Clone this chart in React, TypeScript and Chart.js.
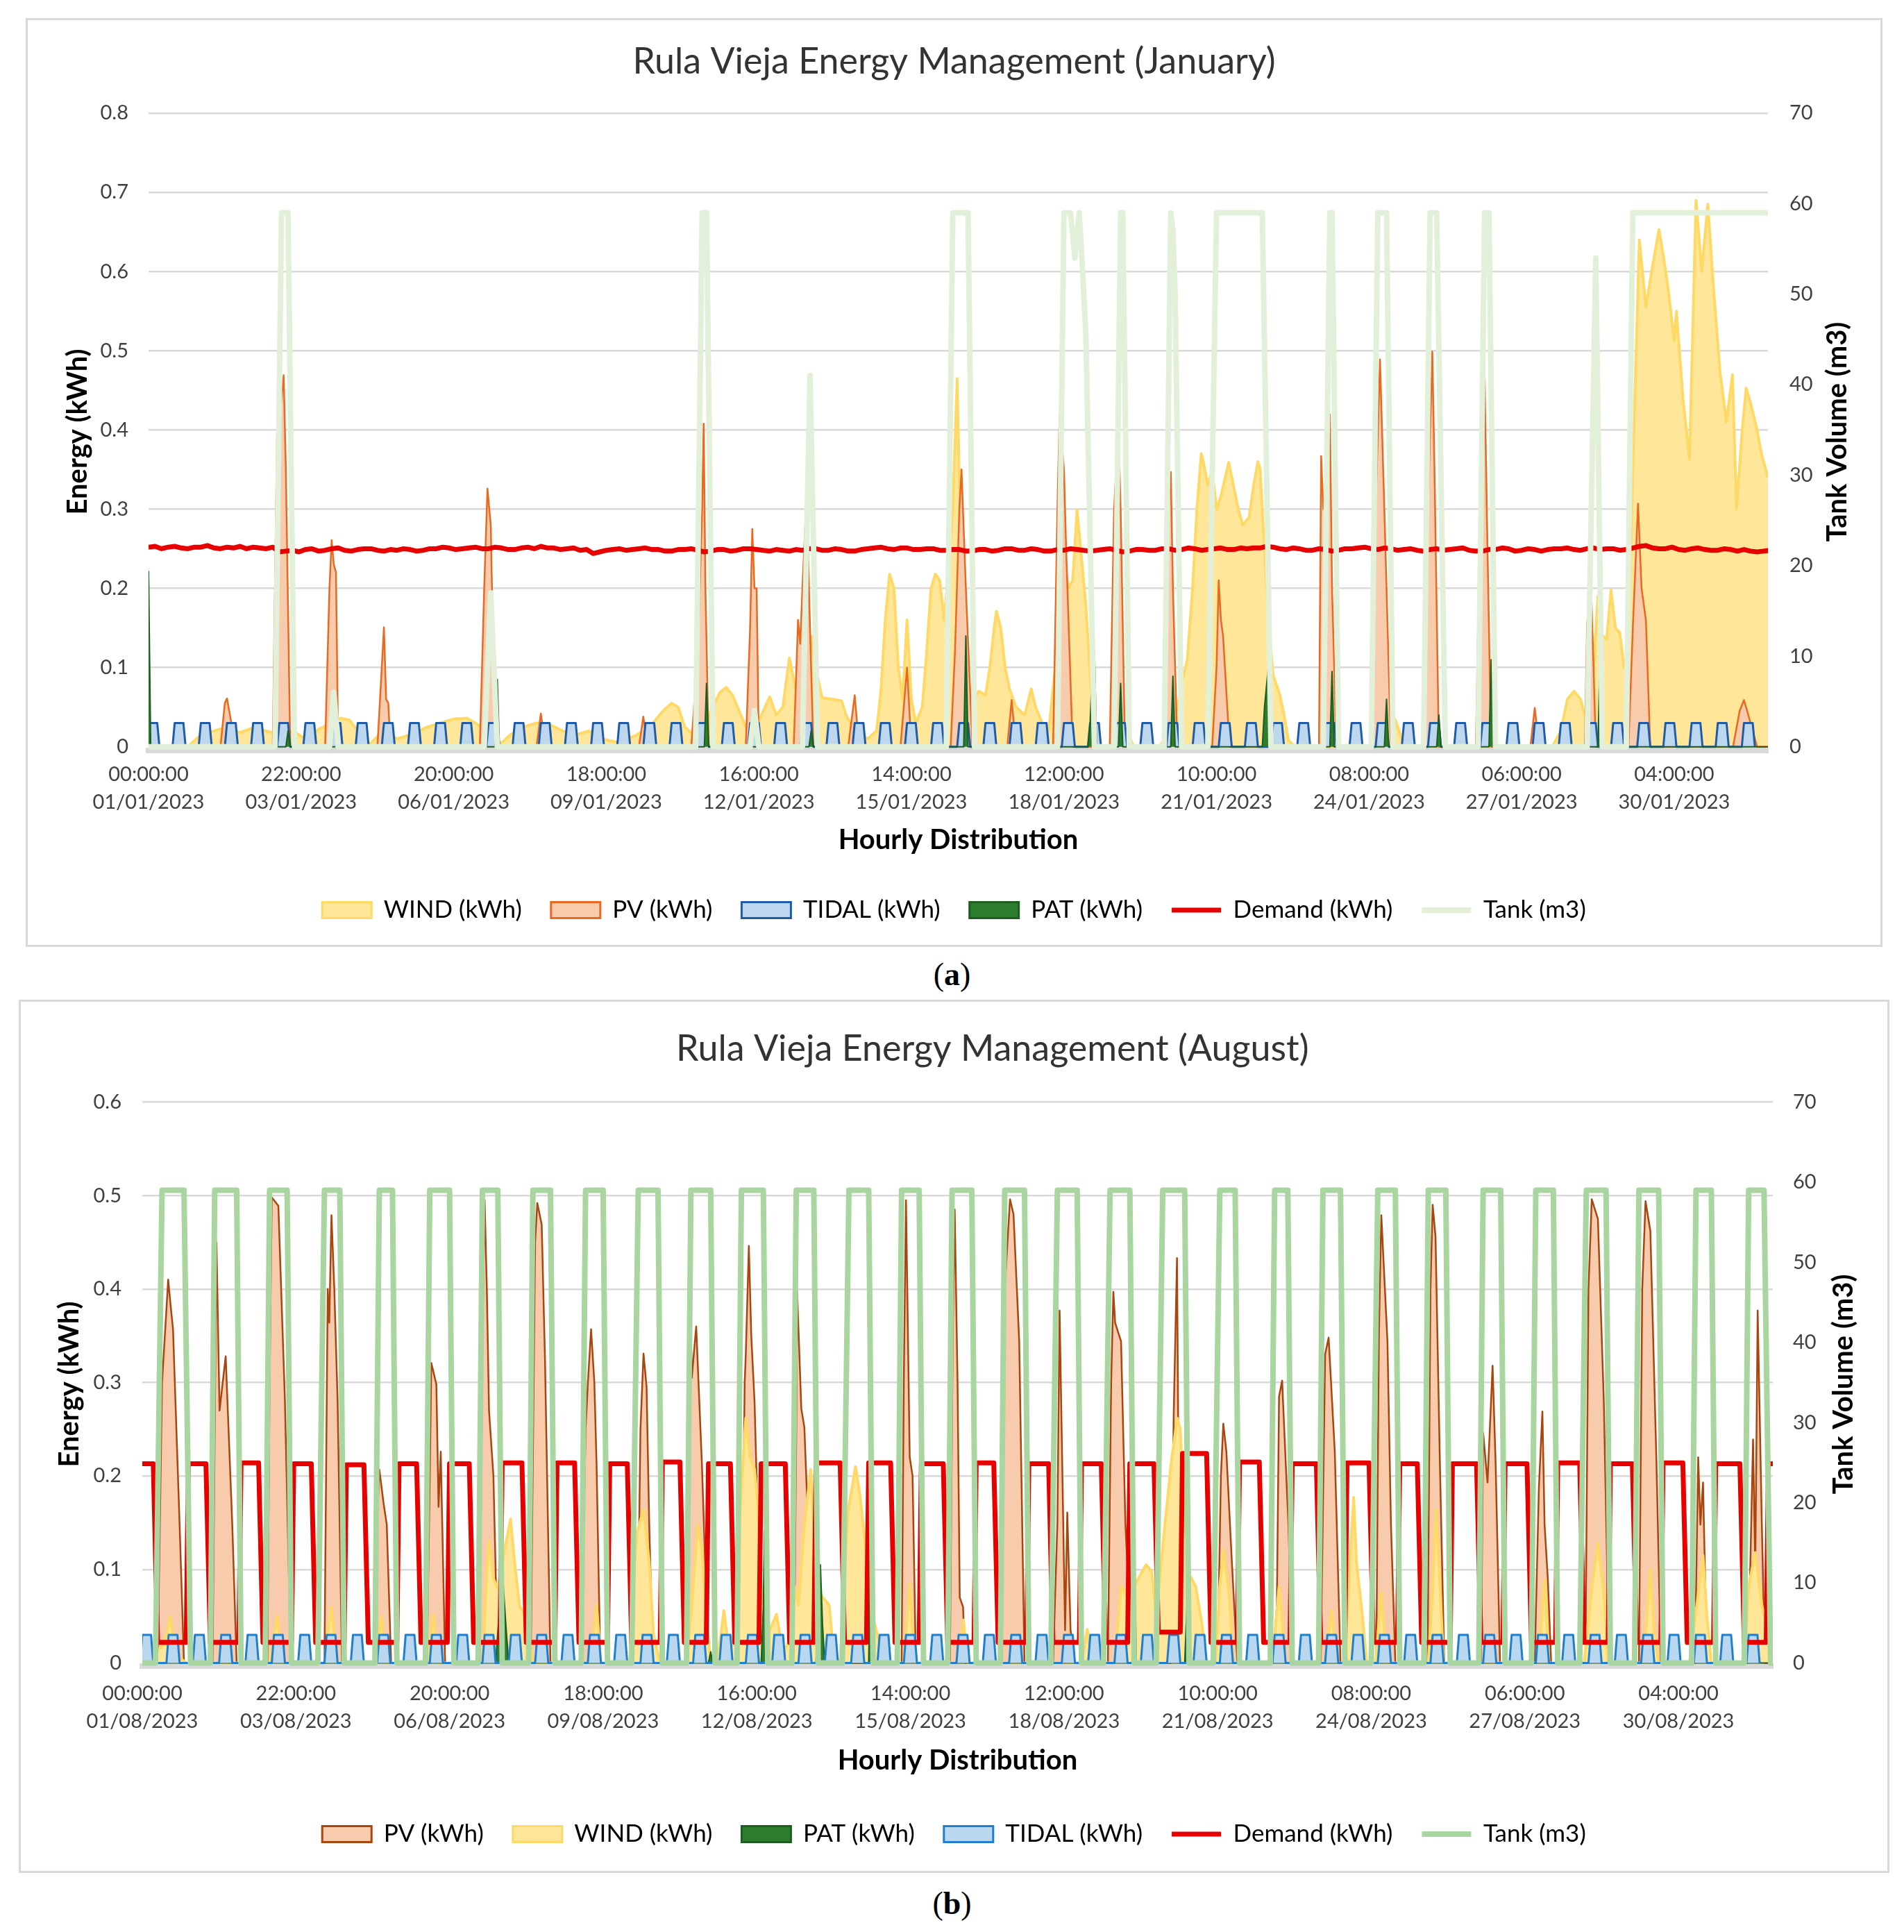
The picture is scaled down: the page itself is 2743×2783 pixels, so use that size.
import { useEffect, useRef } from "react"
import { Chart, registerables } from "chart.js"

Chart.register(...registerables)

const FONT = "Lato, 'Noto Sans', sans-serif"

// x axis: a label every 70 hours of the month
const tickHours = [0, 70, 140, 210, 280, 350, 420, 490, 560, 630, 700]
const tickTimes = ["00:00:00", "22:00:00", "20:00:00", "18:00:00", "16:00:00", "14:00:00", "12:00:00", "10:00:00", "08:00:00", "06:00:00", "04:00:00"]
const janDates = ["01/01/2023", "03/01/2023", "06/01/2023", "09/01/2023", "12/01/2023", "15/01/2023", "18/01/2023", "21/01/2023", "24/01/2023", "27/01/2023", "30/01/2023"]
const augDates = ["01/08/2023", "03/08/2023", "06/08/2023", "09/08/2023", "12/08/2023", "15/08/2023", "18/08/2023", "21/08/2023", "24/08/2023", "27/08/2023", "30/08/2023"]
const janEnergyTicks = [0, 0.1, 0.2, 0.3, 0.4, 0.5, 0.6, 0.7, 0.8]
const augEnergyTicks = [0, 0.1, 0.2, 0.3, 0.4, 0.5, 0.6]
const tankTicks = [0, 10, 20, 30, 40, 50, 60, 70]

type Pair = [number, number]

// ---------- January: [hour of month, value] ----------
const janWind: Pair[] = [
  [0, 0], [18, 0], [24, 0.015], [30, 0.02], [36, 0.025], [42, 0.018], [48, 0.024], [54, 0.02], [60, 0.015], [66, 0.02], [72, 0.01], [78, 0.022], [84, 0.03], [88, 0.036], [92, 0.034], [96, 0.02], [100, 0],
  [108, 0.02], [114, 0.01], [120, 0.015], [128, 0.025], [134, 0.03], [140, 0.035], [146, 0.036], [150, 0.03], [155, 0.02], [160, 0], [166, 0.015], [172, 0.025], [178, 0.03], [184, 0.028], [190, 0.02],
  [196, 0.015], [202, 0.02], [208, 0.01], [216, 0.005], [224, 0.015], [230, 0.025], [236, 0.045], [240, 0.055], [243, 0.05], [246, 0.025], [250, 0.015], [254, 0.02], [258, 0.045], [262, 0.068],
  [265, 0.075], [268, 0.065], [271, 0.045], [274, 0.025], [278, 0.02], [282, 0.045], [285, 0.063], [288, 0.04], [291, 0.05], [294, 0.112], [296, 0.085], [298, 0.06], [301, 0.08], [304, 0.14],
  [306, 0.1], [309, 0.062], [314, 0.06], [318, 0.058], [320, 0.04], [324, 0.02], [330, 0.01], [334, 0.02], [336, 0.07], [338, 0.16], [340, 0.218], [342, 0.2], [344, 0.1], [346, 0.06], [348, 0.16],
  [350, 0.06], [352, 0.03], [355, 0.05], [357, 0.12], [359, 0.2], [361, 0.218], [363, 0.21], [365, 0.16], [367, 0.22], [369, 0.3], [371, 0.465], [373, 0.2], [375, 0.1], [378, 0.06], [381, 0.07],
  [384, 0.065], [386, 0.1], [388, 0.15], [389, 0.171], [391, 0.15], [393, 0.1], [395, 0.073], [398, 0.05], [402, 0.04], [405, 0.073], [407, 0.05], [410, 0.03], [413, 0.02], [416, 0.1], [418, 0.2],
  [420, 0.24], [422, 0.2], [424, 0.21], [426, 0.299], [428, 0.24], [430, 0.18], [433, 0.05], [436, 0], [442, 0], [445, 0.02], [449, 0.02], [452, 0], [464, 0], [468, 0.02], [472, 0.05], [474, 0.08],
  [476.6, 0.11], [479, 0.2], [481, 0.3], [483, 0.37], [484, 0.359], [486, 0.33], [488, 0.35], [490, 0.3], [492, 0.316], [494, 0.34], [495.6, 0.359], [497, 0.34], [498.8, 0.316], [500, 0.3],
  [502, 0.28], [505, 0.29], [507, 0.33], [509, 0.36], [510, 0.35], [511.6, 0.27], [513.8, 0.155], [516, 0.09], [519, 0.066], [521, 0.04], [523, 0.008], [526, 0], [566, 0], [569, 0.015], [572, 0.034],
  [575, 0.01], [578, 0], [644, 0], [648, 0.02], [651, 0.06], [654, 0.07], [657, 0.06], [660, 0.03], [663, 0.1], [665, 0.19], [667, 0.14], [669, 0.136], [671, 0.198], [673, 0.15], [675, 0.144],
  [677, 0.1], [679, 0.12], [681, 0.35], [684, 0.64], [687, 0.555], [690, 0.606], [693, 0.653], [695, 0.62], [697, 0.583], [700, 0.512], [701, 0.55], [704, 0.44], [707, 0.363], [710, 0.69],
  [712.6, 0.6], [715.4, 0.685], [718, 0.58], [721, 0.473], [724, 0.41], [726.7, 0.47], [728.6, 0.3], [731, 0.394], [733, 0.453], [735, 0.434], [738, 0.4], [740, 0.37], [743, 0.34],
]

const janPv: Pair[] = [
  [0, 0], [33, 0], [35, 0.055], [36, 0.061], [38, 0.03], [40, 0], [57, 0], [59, 0.4], [61, 0.44], [62, 0.469], [63, 0.35], [65, 0], [81, 0], [83, 0.2], [84, 0.261], [85, 0.23], [86, 0.22], [87, 0],
  [105, 0], [107, 0.1], [108, 0.151], [109, 0.06], [110, 0.055], [111, 0], [152, 0], [154, 0.2], [155.5, 0.326], [157, 0.28], [159, 0], [178, 0], [180, 0.042], [182, 0], [225, 0], [227, 0.038],
  [229, 0], [249, 0], [252, 0.12], [254, 0.3], [254.7, 0.408], [255.5, 0.2], [257, 0], [274, 0], [276, 0.15], [277, 0.275], [278, 0.2], [279, 0.2], [280, 0], [296, 0], [298, 0.16], [299, 0.13],
  [300, 0.2], [302, 0.32], [303, 0.2], [305, 0], [321, 0], [324, 0.065], [326, 0], [345, 0], [348, 0.1], [350, 0], [368, 0], [370, 0.12], [372, 0.3], [373, 0.35], [375, 0.2], [378, 0], [394, 0],
  [396, 0.059], [398, 0], [415, 0], [417, 0.3], [418, 0.418], [420, 0.35], [421, 0.25], [424, 0], [441, 0], [443, 0.3], [445, 0.4], [446, 0.3], [448, 0], [466, 0], [468, 0.3], [469, 0.347],
  [470, 0.2], [472, 0], [488, 0], [490, 0.1], [491, 0.21], [492, 0.16], [493, 0.14], [496, 0], [537, 0], [538, 0.367], [539, 0.3], [541, 0.35], [542, 0.42], [543, 0.2], [545, 0], [561, 0],
  [563, 0.3], [565, 0.489], [567, 0.3], [570, 0], [585, 0], [587, 0.3], [589, 0.499], [590, 0.35], [592, 0], [609, 0], [611, 0.3], [613, 0.467], [614, 0.3], [616, 0], [634, 0], [636, 0.049],
  [638, 0], [659, 0], [660, 0.15], [661.6, 0.222], [663, 0.1], [664, 0], [679, 0], [681, 0.15], [683.4, 0.307], [685, 0.2], [687, 0.16], [689, 0], [727, 0], [730, 0.045], [732, 0.059],
  [734, 0.04], [738, 0], [743, 0],
]

const janPat: Pair[] = [
  [0, 0.222], [1, 0], [63, 0], [64, 0.02], [65, 0], [159, 0], [160, 0.085], [161, 0], [255, 0], [256, 0.08], [257, 0], [303, 0], [304, 0.02], [305, 0], [374, 0], [375, 0.14], [376, 0],
  [431, 0], [432, 0.03], [433, 0.1], [434, 0.12], [435, 0], [445, 0], [446, 0.08], [447, 0], [469, 0], [470, 0.089], [471, 0], [511, 0], [512, 0.05], [514, 0.108], [515, 0], [542, 0],
  [543, 0.095], [544, 0], [567, 0], [568, 0.06], [569, 0], [591, 0], [592, 0.04], [593, 0], [615, 0], [616, 0.11], [617, 0], [665, 0], [666, 0.124], [667, 0], [743, 0],
]

// demand sampled every 3 hours (one row = 72 h)
const janDemandStep = 3
const janDemand = [
  0.252, 0.253, 0.250, 0.252, 0.253, 0.251, 0.250, 0.252, 0.252, 0.254, 0.251, 0.250, 0.252, 0.251, 0.253, 0.250, 0.252, 0.251, 0.250, 0.252, 0.246, 0.247, 0.248, 0.246,
  0.249, 0.250, 0.247, 0.248, 0.250, 0.251, 0.248, 0.247, 0.249, 0.250, 0.250, 0.248, 0.247, 0.249, 0.248, 0.250, 0.249, 0.247, 0.248, 0.250, 0.250, 0.252, 0.251, 0.249,
  0.250, 0.251, 0.252, 0.250, 0.250, 0.252, 0.251, 0.249, 0.249, 0.251, 0.252, 0.250, 0.253, 0.251, 0.251, 0.249, 0.250, 0.251, 0.248, 0.249, 0.244, 0.246, 0.248, 0.249,
  0.250, 0.248, 0.249, 0.250, 0.251, 0.249, 0.249, 0.247, 0.247, 0.249, 0.249, 0.250, 0.248, 0.246, 0.247, 0.249, 0.249, 0.247, 0.248, 0.250, 0.250, 0.249, 0.248, 0.247,
  0.249, 0.248, 0.247, 0.249, 0.248, 0.250, 0.250, 0.248, 0.248, 0.250, 0.249, 0.247, 0.247, 0.249, 0.250, 0.251, 0.252, 0.250, 0.249, 0.251, 0.251, 0.249, 0.249, 0.250,
  0.250, 0.248, 0.248, 0.249, 0.249, 0.247, 0.247, 0.249, 0.249, 0.247, 0.248, 0.250, 0.250, 0.248, 0.248, 0.250, 0.249, 0.247, 0.247, 0.249, 0.248, 0.250, 0.249, 0.248,
  0.247, 0.248, 0.249, 0.250, 0.248, 0.246, 0.247, 0.249, 0.249, 0.248, 0.248, 0.250, 0.250, 0.248, 0.249, 0.251, 0.250, 0.248, 0.249, 0.250, 0.251, 0.249, 0.249, 0.251,
  0.250, 0.251, 0.251, 0.253, 0.252, 0.250, 0.249, 0.251, 0.250, 0.248, 0.248, 0.250, 0.249, 0.247, 0.248, 0.250, 0.250, 0.251, 0.252, 0.250, 0.249, 0.251, 0.250, 0.248,
  0.249, 0.250, 0.248, 0.247, 0.249, 0.250, 0.248, 0.249, 0.250, 0.251, 0.248, 0.247, 0.247, 0.249, 0.249, 0.251, 0.250, 0.247, 0.248, 0.250, 0.249, 0.247, 0.249, 0.250,
  0.250, 0.251, 0.249, 0.248, 0.250, 0.251, 0.249, 0.250, 0.250, 0.248, 0.249, 0.251, 0.253, 0.254, 0.251, 0.250, 0.250, 0.252, 0.249, 0.248, 0.250, 0.251, 0.249, 0.248,
  0.248, 0.250, 0.249, 0.247, 0.249, 0.247, 0.246, 0.247, 0.248,
]

const janTank: Pair[] = [
  [0, 0], [58, 0], [61, 59], [64, 59], [67, 0], [83, 0], [85, 6], [87, 0], [154, 0], [157, 17], [160, 0], [251, 0], [254, 59], [256, 59], [259, 0], [276, 0], [278, 4], [280, 0],
  [300, 0], [303.5, 41], [307, 0], [366, 0], [369, 59], [376, 59], [379, 0], [417, 0], [420, 59], [423, 59], [425, 54], [427, 59], [428, 55], [430, 46], [434, 0], [443, 0], [446, 59],
  [447, 59], [450, 0], [466, 0], [469, 59], [470, 57], [471, 50], [474, 0], [486, 0], [490, 59], [511, 59], [515, 0], [539, 0], [542, 59], [543, 59], [546, 0], [561, 0], [564, 59], [568, 59],
  [571, 0], [585, 0], [588, 59], [591, 59], [595, 0], [610, 0], [613, 59], [615, 59], [618, 0], [660, 0], [664, 54], [667, 0], [678, 0], [681, 59], [743, 59],
]

// tidal pulses: first hour at full output
const janTidalStarts = [0, 12, 24, 36, 48, 60, 72, 84, 96, 108, 120, 132, 144, 156, 168, 180, 192, 204, 216, 228, 240, 252, 264, 276, 288, 300, 312, 324, 336, 348, 360,
  372, 384, 396, 408, 420, 432, 444, 456, 468, 480, 492, 504, 516, 528, 540, 552, 564, 576, 588, 600, 612, 624, 636, 648, 660, 672, 684, 696, 708, 720, 732]
const tidalLevel = 0.03
const tidalOnHours = 4

// ---------- August ----------
const augPv: Pair[] = [
  [0, 0], [7, 0], [9, 0.3], [11.8, 0.41], [13, 0.38], [14, 0.357], [17, 0.148], [19, 0],
  [32, 0], [33.8, 0.45], [35.2, 0.27], [38, 0.328], [41, 0.148], [43, 0],
  [57, 0], [58, 0.3], [59, 0.498], [62, 0.489], [65, 0.28], [67.7, 0],
  [83, 0], [84.5, 0.4], [85.2, 0.364], [86.2, 0.479], [87.5, 0.4], [89, 0.28], [91, 0],
  [106, 0], [107, 0.15], [108, 0.207], [110, 0.17], [111.4, 0.148], [113.4, 0],
  [129.7, 0], [131, 0.2], [131.7, 0.321], [134, 0.298], [135, 0.167], [136, 0.226], [138, 0],
  [153.7, 0], [155, 0.35], [156, 0.495], [157, 0.4], [158, 0.27], [160, 0.2], [162, 0],
  [177, 0], [179, 0.45], [180, 0.492], [182, 0.469], [183.5, 0.325], [186, 0],
  [200, 0], [202, 0.25], [203, 0.298], [204.5, 0.357], [206, 0.3], [207, 0.213], [208.7, 0],
  [225.6, 0], [227, 0.25], [228.4, 0.331], [229.8, 0.295], [231, 0.148], [232.7, 0],
  [247.6, 0], [249, 0.25], [249.5, 0.416], [250.4, 0.305], [252.4, 0.36], [255, 0.213], [258, 0],
  [273, 0], [274.5, 0.3], [275, 0.33], [276.4, 0.446], [277.5, 0.35], [279, 0.279], [280.5, 0.148], [282, 0],
  [297, 0], [298, 0.25], [298.4, 0.397], [300.3, 0.272], [301.7, 0.252], [304.5, 0.08], [306, 0],
  [346, 0], [347, 0.3], [348, 0.495], [349.7, 0.22], [351, 0.2], [352.5, 0],
  [368, 0], [369.3, 0.35], [370.2, 0.485], [371.5, 0.3], [372.5, 0.07], [374, 0.06], [375, 0],
  [391, 0], [393, 0.4], [395.4, 0.496], [397, 0.48], [399.6, 0.344], [402, 0],
  [415, 0], [417, 0.15], [418, 0.377], [420.5, 0.035], [421.5, 0.161], [423, 0.035], [425, 0],
  [440, 0], [441.5, 0.3], [442.5, 0.397], [443.3, 0.364], [446, 0.344], [448, 0.148], [451, 0],
  [468.7, 0], [470, 0.266], [471.5, 0.433], [472.5, 0.1], [474.3, 0],
  [490, 0], [491.5, 0.2], [492.6, 0.256], [494, 0.226], [496.5, 0.108], [499, 0],
  [515, 0], [517, 0.06], [518, 0.285], [519.4, 0.302], [522.3, 0.147], [524, 0],
  [537, 0], [539, 0.33], [540.6, 0.348], [543.4, 0.226], [546, 0],
  [562.3, 0], [563.5, 0.35], [564.6, 0.479], [567.4, 0.344], [569, 0.148], [571, 0],
  [585.7, 0], [587, 0.4], [588, 0.49], [589.3, 0.456], [591.3, 0.213], [593.3, 0],
  [610, 0], [611, 0.246], [612, 0.22], [613, 0.193], [615.3, 0.318], [616.7, 0.213], [618.7, 0],
  [634.5, 0], [636.4, 0.187], [638, 0.269], [639, 0.148], [640.5, 0.089], [642, 0],
  [657.6, 0], [659, 0.4], [660.5, 0.496], [663.3, 0.475], [666, 0.279], [668.4, 0],
  [682, 0], [683.5, 0.4], [685, 0.494], [687.2, 0.462], [690, 0.213], [692, 0],
  [707.5, 0], [709, 0.22], [710, 0.148], [711.2, 0.193], [712.5, 0.05], [713.7, 0],
  [731.5, 0], [732.7, 0.1], [734, 0.239], [735, 0.1], [736.1, 0.377], [738, 0.148], [739.4, 0], [743, 0],
]

const augWind: Pair[] = [
  [0, 0], [10, 0.02], [12.7, 0.05], [15, 0.01], [20, 0], [58, 0], [61.5, 0.05], [64, 0], [83, 0], [86, 0.06], [89, 0], [106, 0], [109, 0.05], [111, 0], [130, 0], [132.5, 0.052], [135, 0],
  [155, 0], [157, 0.1], [158, 0.131], [160, 0.09], [162, 0.08], [165, 0.12], [167.8, 0.154], [170, 0.1], [172, 0.06], [175, 0.05], [178, 0], [204, 0], [207, 0.062], [209, 0], [222, 0],
  [224, 0.1], [225.6, 0.141], [228.4, 0.164], [231, 0.108], [233, 0.03], [236, 0], [248, 0], [250, 0.05], [251, 0.082], [253.2, 0.148], [255, 0.12], [257, 0.05], [259, 0], [262, 0],
  [265, 0.056], [267, 0.02], [270, 0.02], [272, 0.148], [275, 0.262], [277, 0.22], [279, 0.207], [280.6, 0.167], [282, 0.082], [285, 0.03], [289, 0.052], [292, 0.01], [296, 0.03],
  [297.5, 0.082], [299, 0.062], [301.7, 0.148], [304.6, 0.207], [307.4, 0.082], [310, 0.07], [313, 0.062], [315, 0.01], [318, 0], [319, 0.05], [321.5, 0.161], [325, 0.21], [327, 0.18],
  [330, 0.115], [332.8, 0.05], [335, 0.03], [338, 0], [347, 0], [349.7, 0.085], [352, 0], [372, 0], [374.2, 0.046], [376, 0], [428, 0], [430.6, 0.036], [433, 0], [443, 0], [446, 0.082],
  [449, 0.07], [452, 0.082], [455, 0.095], [457.4, 0.105], [460, 0.098], [462, 0.05], [464, 0.1], [466, 0.148], [468.8, 0.213], [471.6, 0.262], [473, 0.25], [474.3, 0.18], [477, 0.095],
  [480, 0.082], [482.8, 0.043], [485, 0], [489, 0], [491, 0.082], [492.6, 0.121], [495.5, 0.07], [497, 0], [515, 0], [518, 0.082], [521, 0], [539, 0], [542, 0.056], [544, 0], [548, 0],
  [550.4, 0.115], [552, 0.177], [553.3, 0.108], [556, 0.05], [558, 0], [562, 0], [564.6, 0.075], [567, 0], [586, 0], [588, 0.08], [589.4, 0.164], [591, 0.1], [593, 0], [636, 0],
  [639, 0.089], [641, 0], [657, 0], [660.6, 0.082], [663.3, 0.128], [666, 0.075], [668, 0], [684, 0], [686, 0.06], [687.2, 0.1], [689, 0.03], [691, 0], [705, 0], [708.4, 0.062],
  [711.2, 0.115], [713, 0.05], [715, 0], [730, 0], [732, 0.082], [735, 0.118], [738, 0.062], [741, 0.03], [743, 0.016],
]

const augPat: Pair[] = [
  [0, 0], [161, 0], [162.5, 0.05], [163.5, 0.14], [164.5, 0.082], [166, 0.03], [167, 0], [258, 0], [259, 0.012], [260, 0], [282, 0], [283, 0.06], [283.5, 0.141], [284, 0.03], [285, 0],
  [307, 0], [308, 0.06], [309, 0.105], [310, 0.04], [311, 0], [331, 0], [332, 0.131], [333, 0], [451, 0], [452, 0.118], [453, 0], [475, 0], [476, 0.06], [476.6, 0.098], [477, 0.04],
  [478, 0], [743, 0],
]

const augDemand: Pair[] = [
  [0, 0.213], [5, 0.213], [7, 0.022], [20, 0.022], [21, 0.213], [29, 0.213], [31, 0.022], [44, 0.022], [45, 0.214], [53, 0.214], [55, 0.022], [68, 0.022], [69, 0.213], [77, 0.213],
  [79, 0.022], [92, 0.022], [93, 0.212], [101, 0.212], [103, 0.022], [116, 0.022], [117, 0.213], [125, 0.213], [127, 0.022], [139, 0.022], [140, 0.213], [149, 0.213], [151, 0.022],
  [163, 0.022], [164, 0.214], [173, 0.214], [175, 0.022], [188, 0.022], [189, 0.214], [197, 0.214], [199, 0.022], [212, 0.022], [213, 0.213], [221, 0.213], [223, 0.022], [236, 0.022],
  [237, 0.215], [245, 0.215], [247, 0.022], [257, 0.022], [258, 0.213], [268, 0.213], [270, 0.022], [281, 0.022], [282, 0.213], [293, 0.213], [295, 0.022], [306, 0.022], [307, 0.214],
  [318, 0.214], [320, 0.022], [330, 0.022], [331, 0.214], [341, 0.214], [343, 0.022], [354, 0.022], [355, 0.213], [365, 0.213], [367, 0.022], [379, 0.022], [380, 0.214], [388, 0.214],
  [390, 0.022], [403, 0.022], [404, 0.213], [413, 0.213], [415, 0.022], [427, 0.022], [428, 0.213], [437, 0.213], [439, 0.022], [449, 0.022], [450, 0.213], [461, 0.213], [463, 0.033],
  [473, 0.033], [474, 0.224], [485, 0.224], [487, 0.022], [499, 0.022], [500, 0.215], [509, 0.215], [511, 0.022], [523, 0.022], [524, 0.213], [535, 0.213], [537, 0.022], [548, 0.022],
  [549, 0.214], [559, 0.214], [561, 0.022], [572, 0.022], [573, 0.213], [581, 0.213], [583, 0.022], [596, 0.022], [597, 0.213], [608, 0.213], [610, 0.022], [620, 0.022], [621, 0.213],
  [631, 0.213], [633, 0.022], [644, 0.022], [645, 0.214], [655, 0.214], [657, 0.022], [668, 0.022], [669, 0.213], [679, 0.213], [681, 0.022], [692, 0.022], [693, 0.214], [702, 0.214],
  [704, 0.022], [716, 0.022], [717, 0.213], [728, 0.213], [730, 0.022], [740, 0.022], [741, 0.213], [743, 0.213],
]

const augTank: Pair[] = [
  [0, 0], [6, 0], [9, 59], [19, 59], [22, 0], [31, 0], [33, 59], [43, 59], [45, 0], [56, 0], [58, 59], [66, 59], [68, 0], [80, 0], [83, 59], [90, 59], [92, 0], [106, 0], [108, 59],
  [114, 59], [116, 0], [129, 0], [131, 59], [140, 59], [142, 0], [153, 0], [155, 59], [162, 59], [164, 0], [176, 0], [178, 59], [186, 59], [188, 0], [200, 0], [202, 59], [210, 59],
  [212, 0], [223, 0], [226, 59], [235, 59], [237, 0], [248, 0], [250, 59], [259, 59], [261, 0], [271, 0], [273, 59], [283, 59], [285, 0], [296, 0], [298, 59], [306, 59], [308, 0],
  [319, 0], [322, 59], [331, 59], [333, 0], [344, 0], [346, 59], [354, 59], [356, 0], [367, 0], [369, 59], [378, 59], [380, 0], [391, 0], [393, 59], [402, 59], [404, 0], [414, 0],
  [417, 59], [426, 59], [428, 0], [438, 0], [441, 59], [450, 59], [452, 0], [462, 0], [465, 59], [475, 59], [477, 0], [488, 0], [491, 59], [498, 59], [500, 0], [514, 0], [516, 59],
  [522, 59], [524, 0], [536, 0], [538, 59], [546, 59], [548, 0], [560, 0], [563, 59], [571, 59], [573, 0], [584, 0], [586, 59], [594, 59], [596, 0], [609, 0], [611, 59], [619, 59],
  [621, 0], [633, 0], [635, 59], [643, 59], [645, 0], [655, 0], [658, 59], [667, 59], [669, 0], [680, 0], [682, 59], [691, 59], [693, 0], [706, 0], [708, 59], [715, 59], [717, 0],
  [730, 0], [732, 59], [739, 59], [742, 0], [743, 0],
]

const augTidalStarts = [0, 12, 24, 36, 48, 60, 72, 84, 96, 108, 120, 132, 144, 156, 168, 180, 192, 204, 216, 228, 240, 252, 264, 276, 288, 300, 312, 324, 336, 348, 360,
  372, 384, 396, 408, 420, 432, 444, 456, 468, 480, 492, 504, 516, 528, 540, 552, 564, 576, 588, 600, 612, 624, 636, 648, 660, 672, 684, 696, 708, 720, 732]

type Pt = { x: number; y: number }

const pts = (pairs: Pair[]): Pt[] => pairs.map(([x, y]) => ({ x, y }))
const stepPts = (values: number[], step: number): Pt[] => values.map((y, i) => ({ x: i * step, y }))
const pulsePts = (starts: number[]): Pt[] =>
  starts.flatMap((s) => [
    { x: s - 1, y: 0 },
    { x: s, y: tidalLevel },
    { x: s + tidalOnHours, y: tidalLevel },
    { x: s + tidalOnHours + 1, y: 0 },
  ])

interface SeriesSpec {
  label: string
  data: Pt[]
  area: boolean
  fill: string
  stroke: string
  width: number
  tank?: boolean
}

interface PanelSpec {
  title: string
  dates: string[]
  yMax: number
  yMin: number // a hair below zero so the grey axis band sits under the zero line
  yTicks: number[]
  series: SeriesSpec[] // first entry is drawn on top
  legend: string[]
  frame: { left: number; top: number; width: number; height: number }
  titlePad: [number, number]
  leftWidth: number
  leftTickPad: number
  leftTitlePad: number
  bottomHeight: number
  bottomTickPad: number
  bottomTitlePad: number
  rightWidth: number
  rightTickPad: number
  rightTitleOffset: number
  padBottom: number
}

const janSpec: PanelSpec = {
  title: "Rula Vieja Energy Management (January)",
  dates: janDates,
  yMax: 0.8,
  yMin: -0.0047,
  yTicks: janEnergyTicks,
  series: [
    { label: "Tank (m3)", data: pts(janTank), area: false, fill: "#E2F0D9", stroke: "#E2F0D9", width: 8, tank: true },
    { label: "Demand (kWh)", data: stepPts(janDemand, janDemandStep), area: false, fill: "#E60000", stroke: "#E60000", width: 7 },
    { label: "PAT (kWh)", data: pts(janPat), area: true, fill: "#2E7D2E", stroke: "#1B5E20", width: 2 },
    { label: "TIDAL (kWh)", data: pulsePts(janTidalStarts), area: true, fill: "#BDD7EE", stroke: "#1F5BA8", width: 3 },
    { label: "PV (kWh)", data: pts(janPv), area: true, fill: "#F8CBAD", stroke: "#E8691F", width: 2.5 },
    { label: "WIND (kWh)", data: pts(janWind), area: true, fill: "#FFE699", stroke: "#FFD966", width: 4 },
  ],
  legend: ["WIND (kWh)", "PV (kWh)", "TIDAL (kWh)", "PAT (kWh)", "Demand (kWh)", "Tank (m3)"],
  frame: { left: 37, top: 26, width: 2675, height: 1338 },
  titlePad: [28.8, 42.8],
  leftWidth: 174,
  leftTickPad: 29,
  leftTitlePad: 47.6,
  bottomHeight: 170.5,
  bottomTickPad: 15,
  bottomTitlePad: 17.5,
  rightWidth: 162,
  rightTickPad: 31,
  rightTitleOffset: 62,
  padBottom: 22.5,
}

const augSpec: PanelSpec = {
  title: "\u2003\u2003\u2002\u2009Rula Vieja Energy Management (August)",
  dates: augDates,
  yMax: 0.6,
  yMin: -0.0037,
  yTicks: augEnergyTicks,
  series: [
    { label: "Tank (m3)", data: pts(augTank), area: false, fill: "#A9D5A0", stroke: "#A9D5A0", width: 8, tank: true },
    { label: "Demand (kWh)", data: pts(augDemand), area: false, fill: "#E60000", stroke: "#E60000", width: 7 },
    { label: "TIDAL (kWh)", data: pulsePts(augTidalStarts), area: true, fill: "#B9D7EF", stroke: "#1F7FCC", width: 3 },
    { label: "PAT (kWh)", data: pts(augPat), area: true, fill: "#2E7D2E", stroke: "#1B5E20", width: 2 },
    { label: "WIND (kWh)", data: pts(augWind), area: true, fill: "#FFE699", stroke: "#FFD966", width: 4 },
    { label: "PV (kWh)", data: pts(augPv), area: true, fill: "#F9CBAD", stroke: "#A9450F", width: 2.5 },
  ],
  legend: ["PV (kWh)", "WIND (kWh)", "PAT (kWh)", "TIDAL (kWh)", "Demand (kWh)", "Tank (m3)"],
  frame: { left: 27, top: 1440, width: 2695, height: 1258 },
  titlePad: [37.4, 44.7],
  leftWidth: 175,
  leftTickPad: 30,
  leftTitlePad: 46,
  bottomHeight: 182.1,
  bottomTickPad: 19,
  bottomTitlePad: 22.5,
  rightWidth: 165,
  rightTickPad: 29,
  rightTitleOffset: 63,
  padBottom: 25.5,
}

const AXIS_TITLE_SIZE = 40

// Chart.js rotates a right-hand axis title the other way; the reference reads bottom-up
const rightTitle = {
  id: "rightTitle",
  afterDraw(chart: any, _args: any, opts: any) {
    const s = chart.scales.y1
    if (!s || !opts.text) return
    const { ctx, chartArea } = chart
    ctx.save()
    ctx.font = `bold ${AXIS_TITLE_SIZE}px ${FONT}`
    ctx.fillStyle = "#000"
    ctx.textAlign = "center"
    ctx.textBaseline = "middle"
    ctx.translate(s.right - opts.offset, (chartArea.top + chartArea.bottom) / 2)
    ctx.rotate(-Math.PI / 2)
    ctx.fillText(opts.text, 0, 0)
    ctx.restore()
  },
}

function buildConfig(p: PanelSpec): any {
  const datasets = p.series.map((s) => ({
    label: s.label,
    data: s.data,
    yAxisID: s.tank ? "y1" : "y",
    borderColor: s.stroke,
    backgroundColor: s.fill,
    borderWidth: s.width,
    borderJoinStyle: "round",
    fill: s.area ? "origin" : false,
    pointRadius: 0,
    tension: 0,
  }))

  const legendItems = p.legend.map((name) => {
    const i = p.series.findIndex((s) => s.label === name)
    const s = p.series[i]
    return {
      text: name,
      datasetIndex: i,
      hidden: false,
      fillStyle: s.area ? s.fill : "rgba(0,0,0,0)",
      strokeStyle: s.stroke,
      lineWidth: s.area ? 3 : s.width,
      pointStyle: s.area ? "rect" : "line",
    }
  })

  const tickFont = { family: FONT, size: 29, lineHeight: 1.38 }
  const axisTitleFont = { family: FONT, size: AXIS_TITLE_SIZE, weight: "bold" as const }

  return {
    type: "line",
    data: { datasets },
    plugins: [rightTitle],
    options: {
      responsive: true,
      maintainAspectRatio: false,
      animation: false,
      events: [],
      layout: { padding: { left: 0, right: 0, top: 0, bottom: p.padBottom } },
      plugins: {
        tooltip: { enabled: false },
        title: {
          display: true,
          text: p.title,
          color: "#333333",
          font: { family: FONT, size: 52, weight: "normal" },
          padding: { top: p.titlePad[0], bottom: p.titlePad[1] },
        },
        legend: {
          position: "bottom",
          labels: {
            usePointStyle: true,
            pointStyleWidth: 71,
            boxHeight: 23,
            padding: 42,
            color: "#595959",
            font: { family: FONT, size: 35 },
            generateLabels: () => legendItems,
          },
        },
        rightTitle: { text: "Tank Volume (m3)", offset: p.rightTitleOffset },
      },
      scales: {
        x: {
          type: "linear",
          min: 0,
          max: 743,
          afterBuildTicks: (s: any) => {
            s.ticks = tickHours.map((value) => ({ value }))
          },
          afterFit: (s: any) => {
            s.height = p.bottomHeight
          },
          ticks: {
            autoSkip: false,
            maxRotation: 0,
            padding: p.bottomTickPad,
            color: "#404040",
            font: tickFont,
            callback: (_v: number, i: number) => [tickTimes[i], p.dates[i]],
          },
          grid: { display: false, drawTicks: false },
          border: { display: true, color: "#D9D9D9", width: 8 },
          title: {
            display: true,
            text: "Hourly Distribution",
            color: "#000",
            font: axisTitleFont,
            padding: { top: 0, bottom: p.bottomTitlePad },
          },
        },
        y: {
          type: "linear",
          position: "left",
          min: p.yMin,
          max: p.yMax,
          afterBuildTicks: (s: any) => {
            s.ticks = p.yTicks.map((value) => ({ value }))
          },
          afterFit: (s: any) => {
            s.width = p.leftWidth
          },
          ticks: {
            padding: p.leftTickPad,
            color: "#404040",
            font: tickFont,
            callback: (v: number) => String(v),
          },
          grid: { color: "#D9D9D9", lineWidth: 2.5, drawTicks: false },
          border: { display: false },
          title: {
            display: true,
            text: "Energy (kWh)",
            color: "#000",
            font: axisTitleFont,
            padding: { top: p.leftTitlePad, bottom: 0 },
          },
        },
        y1: {
          type: "linear",
          position: "right",
          min: (p.yMin / p.yMax) * 70,
          max: 70,
          afterBuildTicks: (s: any) => {
            s.ticks = tankTicks.map((value) => ({ value }))
          },
          afterFit: (s: any) => {
            s.width = p.rightWidth
          },
          ticks: {
            padding: p.rightTickPad,
            color: "#404040",
            font: tickFont,
            callback: (v: number) => String(v),
          },
          grid: { display: false, drawTicks: false },
          border: { display: false },
        },
      },
    },
  }
}

function Panel({ spec }: { spec: PanelSpec }) {
  const canvasRef = useRef<HTMLCanvasElement>(null)

  useEffect(() => {
    if (!canvasRef.current) return
    const chart = new Chart(canvasRef.current, buildConfig(spec))
    return () => {
      chart.destroy()
    }
  }, [spec])

  const f = spec.frame
  return (
    <div
      style={{
        position: "absolute",
        left: f.left,
        top: f.top,
        width: f.width,
        height: f.height,
        border: "3px solid #D9D9D9",
        boxSizing: "border-box",
        background: "#fff",
      }}
    >
      <canvas ref={canvasRef} />
    </div>
  )
}

function Caption({ top, letter }: { top: number; letter: string }) {
  return (
    <div
      style={{
        position: "absolute",
        left: 0,
        top,
        width: 2743,
        height: 56,
        lineHeight: "56px",
        textAlign: "center",
        fontFamily: "'Liberation Serif', 'DejaVu Serif', serif",
        fontSize: 46,
        color: "#000",
      }}
    >
      (<b>{letter}</b>)
    </div>
  )
}

export default function App() {
  return (
    <div style={{ position: "relative", width: 2743, height: 2783, background: "#fff", overflow: "hidden" }}>
      <style>{"body{margin:0;background:#fff}"}</style>
      <Panel spec={janSpec} />
      <Caption top={1376} letter="a" />
      <Panel spec={augSpec} />
      <Caption top={2714} letter="b" />
    </div>
  )
}
